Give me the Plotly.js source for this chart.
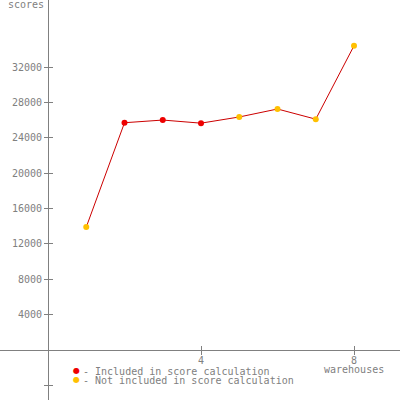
<!DOCTYPE html>
<html><head><meta charset="utf-8">
<script src="https://cdn.plot.ly/plotly-3.0.1.min.js"></script>
<style>html,body{margin:0;padding:0;background:#fff}#chart{width:400px;height:400px}</style>
</head><body><div id="chart"></div>
<script>
// Data
const warehouses = [1, 2, 3, 4, 5, 6, 7, 8];
const scores = [13900, 25700, 26000, 25650, 26350, 27250, 26100, 34400];
const included = [false, true, true, true, false, false, false, false];
const xTickVals = [4, 8];
const yTickVals = [-4000, 4000, 8000, 12000, 16000, 20000, 24000, 28000, 32000];
const yTickText = ['', '4000', '8000', '12000', '16000', '20000', '24000', '28000', '32000'];
const legendLabels = ['- Included in score calculation', '- Not included in score calculation'];
const xTitle = 'warehouses';
const yTitle = 'scores';

const RED = '#ee0000', YEL = '#ffc000', LINE = '#cc0000', GRAY = '#808080';
const FONT = {family: 'DejaVu Sans Mono, monospace', size: 10, color: GRAY};
const W = 400, H = 400;
const x0px = 48, xUnit = 38.25, y0px = 350, yUnit = 35.375 / 4000;
const xRange = [-x0px / xUnit, (W - x0px) / xUnit];
const yRange = [-(H - y0px) / yUnit, y0px / yUnit];

const traces = [
  {x: warehouses, y: scores, mode: 'lines+markers', type: 'scatter',
   line: {color: LINE, width: 1},
   marker: {size: 6, color: included.map(v => v ? RED : YEL)},
   hoverinfo: 'skip'},
  {x: [], y: [], xaxis: 'x2', yaxis: 'y2', type: 'scatter', mode: 'markers', hoverinfo: 'skip'}
];

const common = {showgrid: false, zeroline: false, fixedrange: true};
const layout = {
  width: W, height: H, margin: {l: 0, r: 0, t: 0, b: 0},
  paper_bgcolor: '#fff', plot_bgcolor: '#fff', showlegend: false,
  font: FONT,
  xaxis: Object.assign({}, common, {range: xRange, anchor: 'free', position: (H - y0px) / H,
    showline: true, linecolor: GRAY, linewidth: 1, ticks: 'outside', ticklen: 4, tickcolor: GRAY,
    tickvals: xTickVals, tickfont: FONT, ticklabelstandoff: -3}),
  yaxis: Object.assign({}, common, {range: yRange, anchor: 'free', position: x0px / W,
    showline: true, linecolor: GRAY, linewidth: 1, ticks: 'outside', ticklen: 4, tickcolor: GRAY,
    tickvals: yTickVals, ticktext: yTickText, tickfont: FONT}),
  xaxis2: Object.assign({}, common, {range: xRange, overlaying: 'x', anchor: 'free', position: (H - y0px) / H,
    showline: false, ticks: 'inside', ticklen: 4, tickcolor: GRAY, tickvals: xTickVals, showticklabels: false}),
  yaxis2: Object.assign({}, common, {range: yRange, overlaying: 'y', anchor: 'free', position: x0px / W,
    showline: false, ticks: 'inside', ticklen: 4, tickcolor: GRAY, tickvals: yTickVals, showticklabels: false}),
  annotations: [
    {text: yTitle, xref: 'paper', yref: 'paper', x: 25.5 / W, y: 1, xanchor: 'center', yanchor: 'top', yshift: 3, showarrow: false, font: FONT},
    {text: xTitle, xref: 'x', yref: 'paper', x: 8, y: (H - 369.5) / H, xanchor: 'center', yanchor: 'middle', showarrow: false, font: FONT},
    {text: '●', xref: 'paper', yref: 'paper', x: 76 / W, y: (H - 370.5) / H, xanchor: 'center', yanchor: 'middle', showarrow: false, font: {family: 'DejaVu Sans', size: 8, color: RED}},
    {text: '●', xref: 'paper', yref: 'paper', x: 76 / W, y: (H - 379) / H, xanchor: 'center', yanchor: 'middle', showarrow: false, font: {family: 'DejaVu Sans', size: 8, color: YEL}},
    {text: legendLabels[0], xref: 'paper', yref: 'paper', x: 82 / W, y: (H - 371.5) / H, xanchor: 'left', yanchor: 'middle', showarrow: false, font: FONT, borderpad: 0},
    {text: legendLabels[1], xref: 'paper', yref: 'paper', x: 82 / W, y: (H - 380) / H, xanchor: 'left', yanchor: 'middle', showarrow: false, font: FONT, borderpad: 0}
  ]
};
Plotly.newPlot('chart', traces, layout, {staticPlot: true, displayModeBar: false});
</script></body></html>
